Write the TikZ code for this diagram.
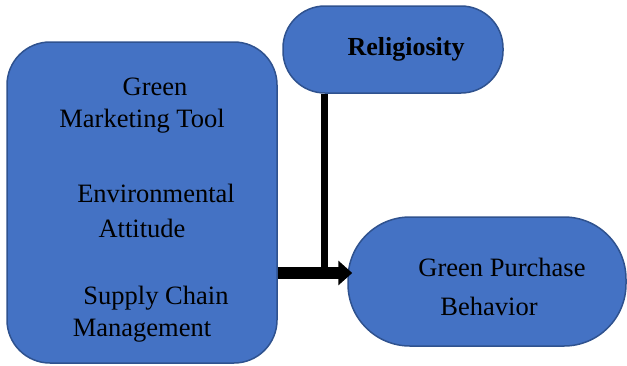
\documentclass[tikz,border=0pt]{standalone}
\usepackage{fontspec}
\setmainfont{Liberation Serif}
\usetikzlibrary{arrows.meta}
\definecolor{boxfill}{HTML}{4472C4}
\definecolor{boxline}{HTML}{2F528F}
\tikzset{
  box/.style={draw=boxline, line width=1.5pt, fill=boxfill, inner sep=0pt},
  lbl/.style={inner sep=0pt, font=\rmfamily\fontsize{26.5}{32}\selectfont, text=black},
}
\begin{document}
\begin{tikzpicture}[x=1pt,y=1pt]
\useasboundingbox (0,0) rectangle (627,-365);
% boxes
\node[box, rounded corners=43pt, minimum width=270pt, minimum height=321pt] (left) at (142,-202.5) {};
\node[box, rounded corners=42pt, minimum width=220pt, minimum height=87pt] (relig) at (393,-49.5) {};
\node[box, rounded corners=62pt, minimum width=278pt, minimum height=129pt] (gpb) at (487,-281.5) {};
% texts
\node[lbl] (t1) at (155,-87) {Green};
\node[lbl] (t2) at (142,-121) {Marketing Tool};
\node[lbl] (t3) at (156,-193) {Environmental};
\node[lbl] (t4) at (142,-228) {Attitude};
\node[lbl] (t5) at (156,-298) {Supply Chain};
\node[lbl] (t6) at (142,-331) {Management};
\node[lbl, font=\rmfamily\bfseries\fontsize{26}{30}\selectfont] (t7) at (406,-49) {Religiosity};
\node[lbl] (t8) at (502,-267) {Green Purchase};
\node[lbl] (t9) at (489,-306) {Behavior};
% connectors
\coordinate (vend) at (324.5,-268);
\coordinate (ay) at (0,-273);
\draw[line width=7pt] (relig.south -| vend) -- (vend);
\draw[line width=12pt, -{Triangle[length=14pt,width=24pt]}] (left.east |- ay) -- ([xshift=5pt]gpb.west |- ay);
\end{tikzpicture}
\end{document}
